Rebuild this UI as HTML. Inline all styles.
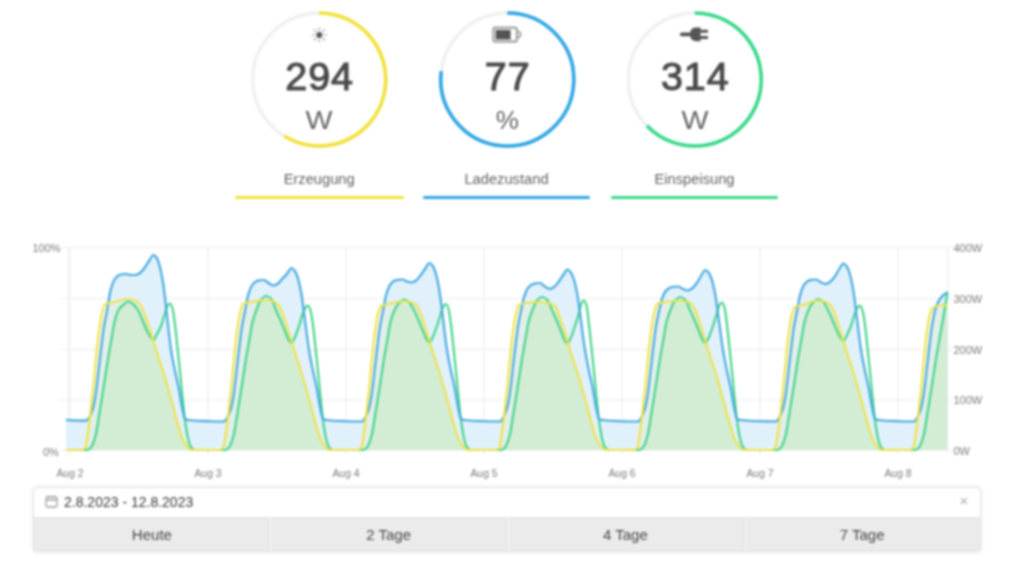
<!DOCTYPE html>
<html><head><meta charset="utf-8">
<style>
*{margin:0;padding:0;box-sizing:border-box}
html,body{width:1024px;height:564px;overflow:hidden;background:#fff;font-family:"Liberation Sans",sans-serif}
.abs{position:absolute}
.num{position:absolute;width:120px;text-align:center;font-weight:normal;font-size:39.5px;color:#4a4a4a;line-height:1;-webkit-text-stroke:1.1px #4a4a4a;letter-spacing:0.9px;text-indent:0.9px}
.unit{position:absolute;width:120px;text-align:center;font-size:26px;color:#666;line-height:1;transform:scaleX(1.1)}
.lbl{position:absolute;width:170px;text-align:center;font-size:14.7px;color:#626262;line-height:1}
.bar{position:absolute;height:3px;border-radius:2px}
.yl{position:absolute;font-size:11px;color:#7a7a7a;line-height:1}
.xl{position:absolute;width:40px;text-align:center;font-size:10.4px;color:#7a7a7a;line-height:1;top:469px}
.box{position:absolute;left:32.5px;top:486.5px;width:948px;height:65.5px;border-radius:4px;border:1px solid #e2e2e2;box-shadow:0 0 4px rgba(0,0,0,0.10);background:#ebebeb;overflow:hidden}
.inp{position:absolute;left:0;top:0;width:947px;height:30px;background:#fff;border-bottom:1px solid #e2e2e2}
.date{position:absolute;left:30.5px;top:7px;font-size:14px;color:#383838;line-height:1}
.btn{position:absolute;top:30px;height:34px;width:236.75px;text-align:center;font-size:15px;color:#484848;line-height:34px}
.sep{position:absolute;top:30px;width:3px;height:34px;border-left:1px solid #e0e0e0;background:#f2f2f2}
</style></head><body><div id="wrap" style="position:absolute;left:0;top:0;width:1024px;height:564px;background:#fff;filter:blur(1px)">
<svg class="abs" style="left:0;top:0" width="1024" height="564" viewBox="0 0 1024 564">
<circle cx="319.2" cy="79.5" r="66.5" fill="none" stroke="#f0f0f0" stroke-width="3.5"/><path d="M319.20,13.00 A66.50,66.50 0 1 1 284.28,136.09" fill="none" stroke="#f2e23a" stroke-width="3.6"/><circle cx="507.3" cy="79.5" r="66.5" fill="none" stroke="#f0f0f0" stroke-width="3.5"/><path d="M507.30,13.00 A66.50,66.50 0 1 1 441.32,71.17" fill="none" stroke="#2ea6e6" stroke-width="3.6"/><circle cx="694.8" cy="79.5" r="66.5" fill="none" stroke="#f0f0f0" stroke-width="3.5"/><path d="M694.80,13.00 A66.50,66.50 0 1 1 646.90,125.63" fill="none" stroke="#38d98a" stroke-width="3.6"/>
<!-- sun -->
<g transform="translate(319.3,34.9)" fill="#555">
<circle r="3"/>
<g stroke="#ababab" stroke-width="1.4" stroke-linecap="round">
<line x1="0" y1="-5" x2="0" y2="-7"/><line x1="0" y1="5" x2="0" y2="7"/>
<line x1="-5" y1="0" x2="-7" y2="0"/><line x1="5" y1="0" x2="7" y2="0"/>
<line x1="3.6" y1="3.6" x2="5" y2="5"/><line x1="-3.6" y1="3.6" x2="-5" y2="5"/>
<line x1="3.6" y1="-3.6" x2="5" y2="-5"/><line x1="-3.6" y1="-3.6" x2="-5" y2="-5"/>
</g></g>
<!-- battery -->
<g>
<rect x="493.3" y="27.6" width="23.6" height="14" rx="2.2" fill="none" stroke="#a3a3a3" stroke-width="2.2"/>
<rect x="495.6" y="29.9" width="15" height="9.6" fill="#545454"/>
<path d="M517.5,31.3 Q520.7,31.8 520.7,34.5 Q520.7,37.2 517.5,37.7" fill="none" stroke="#9a9a9a" stroke-width="1.6"/>
</g>
<!-- plug -->
<g fill="#555">
<rect x="680" y="32.4" width="11" height="3.8" rx="1.5"/>
<path d="M690,34.3 C690,29.5 692.5,27.6 697,27.6 L700.5,27.6 L700.5,41.2 L697,41.2 C692.5,41.2 690,39.2 690,34.3 Z"/>
<rect x="699.5" y="29.8" width="8.6" height="3" rx="1"/>
<rect x="699.5" y="36" width="8.6" height="3" rx="1"/>
</g>
<!-- chart -->
<g stroke="#ececec" stroke-width="1">
<line x1="61" y1="247.5" x2="953" y2="247.5"/>
<line x1="61" y1="298.5" x2="953" y2="298.5"/>
<line x1="61" y1="349.5" x2="953" y2="349.5"/>
<line x1="61" y1="400.0" x2="953" y2="400.0"/>
<line x1="61" y1="450.2" x2="953" y2="450.2"/>
<line x1="70.0" y1="247.5" x2="70.0" y2="456"/>
<line x1="208.0" y1="247.5" x2="208.0" y2="456"/>
<line x1="346.0" y1="247.5" x2="346.0" y2="456"/>
<line x1="484.0" y1="247.5" x2="484.0" y2="456"/>
<line x1="622.0" y1="247.5" x2="622.0" y2="456"/>
<line x1="760.0" y1="247.5" x2="760.0" y2="456"/>
<line x1="898.0" y1="247.5" x2="898.0" y2="456"/>
<line x1="68.5" y1="247.5" x2="68.5" y2="450.5"/>
<line x1="947.5" y1="247.5" x2="947.5" y2="450.5"/>
</g>
<path d="M66.00,420.00C72.67,420.23 79.33,420.70 86.00,420.70C87.17,420.70 88.33,418.71 89.50,417.00C90.50,415.53 91.50,413.08 92.50,410.00C93.33,407.43 94.17,403.64 95.00,399.00C95.83,394.36 96.67,386.89 97.50,380.00C98.17,374.49 98.83,367.83 99.50,362.00C100.17,356.17 100.83,350.36 101.50,345.00C102.33,338.30 103.17,331.06 104.00,326.00C105.00,319.93 106.00,316.37 107.00,311.00C108.17,304.74 109.33,295.07 110.50,290.65C111.83,285.60 113.17,281.37 114.50,279.55C116.33,277.04 118.17,275.14 120.00,274.74C122.00,274.30 124.00,274.00 126.00,274.00C127.67,274.00 129.33,275.00 131.00,275.00C132.50,275.00 134.00,275.00 135.50,275.00C137.00,275.00 138.50,273.95 140.00,273.00C141.50,272.05 143.00,269.94 144.50,268.00C146.00,266.06 147.50,263.15 149.00,261.00C150.50,258.85 152.00,255.00 153.50,255.00C154.50,255.00 155.50,256.23 156.50,257.50C157.50,258.77 158.50,262.04 159.50,265.45C160.67,269.43 161.83,275.44 163.00,282.55C164.07,289.05 165.13,299.08 166.20,308.20C166.97,314.75 167.73,322.42 168.50,329.10C169.33,336.36 170.17,344.53 171.00,350.00C172.33,358.75 173.67,364.49 175.00,371.00C176.17,376.69 177.33,381.07 178.50,387.00C179.67,392.93 180.83,401.53 182.00,407.00C183.00,411.68 184.00,418.38 185.00,419.00C186.00,419.62 187.00,419.91 188.00,420.00C200.00,421.14 212.00,421.50 224.00,421.50C225.17,421.50 226.33,418.95 227.50,417.00C228.50,415.33 229.50,413.08 230.50,410.00C231.33,407.43 232.17,403.64 233.00,399.00C233.83,394.36 234.67,386.89 235.50,380.00C236.17,374.49 236.83,367.83 237.50,362.00C238.17,356.17 238.83,350.36 239.50,345.00C240.33,338.30 241.17,331.06 242.00,326.00C243.00,319.93 244.00,315.94 245.00,311.00C246.17,305.24 247.33,297.65 248.50,293.95C249.83,289.72 251.17,286.18 252.50,284.65C254.33,282.55 256.17,280.96 258.00,280.62C260.00,280.25 262.00,280.00 264.00,280.00C265.67,280.00 267.33,282.31 269.00,283.25C270.50,284.10 272.00,285.50 273.50,285.50C275.00,285.50 276.50,284.45 278.00,283.50C279.50,282.55 281.00,280.08 282.50,278.50C284.00,276.92 285.50,275.71 287.00,274.00C288.50,272.29 290.00,268.00 291.50,268.00C292.50,268.00 293.50,269.30 294.50,270.50C295.50,271.70 296.50,274.17 297.50,277.02C298.67,280.34 299.83,285.64 301.00,291.78C302.07,297.39 303.13,306.05 304.20,313.92C304.97,319.58 305.73,326.19 306.50,331.96C307.33,338.23 308.17,344.87 309.00,350.00C310.33,358.20 311.67,364.49 313.00,371.00C314.17,376.69 315.33,381.07 316.50,387.00C317.67,392.93 318.83,401.53 320.00,407.00C321.00,411.68 322.00,418.38 323.00,419.00C324.00,419.62 325.00,419.91 326.00,420.00C338.00,421.14 350.00,421.50 362.00,421.50C363.17,421.50 364.33,418.95 365.50,417.00C366.50,415.33 367.50,413.08 368.50,410.00C369.33,407.43 370.17,403.64 371.00,399.00C371.83,394.36 372.67,386.89 373.50,380.00C374.17,374.49 374.83,367.83 375.50,362.00C376.17,356.17 376.83,350.36 377.50,345.00C378.33,338.30 379.17,331.06 380.00,326.00C381.00,319.93 382.00,315.98 383.00,311.00C384.17,305.20 385.33,297.44 386.50,293.68C387.83,289.38 389.17,285.78 390.50,284.23C392.33,282.09 394.17,280.47 396.00,280.13C398.00,279.76 400.00,279.50 402.00,279.50C403.67,279.50 405.33,281.03 407.00,281.50C408.50,281.93 410.00,282.50 411.50,282.50C413.00,282.50 414.50,281.45 416.00,280.50C417.50,279.55 419.00,277.38 420.50,275.50C422.00,273.62 423.50,271.08 425.00,269.00C426.50,266.92 428.00,263.00 429.50,263.00C430.50,263.00 431.50,264.27 432.50,265.50C433.50,266.73 434.50,269.51 435.50,272.57C436.67,276.14 437.83,281.72 439.00,288.23C440.07,294.18 441.13,303.37 442.20,311.72C442.97,317.72 443.73,324.74 444.50,330.86C445.33,337.51 446.17,344.73 447.00,350.00C448.33,358.43 449.67,364.49 451.00,371.00C452.17,376.69 453.33,381.07 454.50,387.00C455.67,392.93 456.83,401.53 458.00,407.00C459.00,411.68 460.00,418.38 461.00,419.00C462.00,419.62 463.00,419.91 464.00,420.00C476.00,421.14 488.00,421.50 500.00,421.50C501.17,421.50 502.33,418.95 503.50,417.00C504.50,415.33 505.50,413.08 506.50,410.00C507.33,407.43 508.17,403.64 509.00,399.00C509.83,394.36 510.67,386.89 511.50,380.00C512.17,374.49 512.83,367.83 513.50,362.00C514.17,356.17 514.83,350.36 515.50,345.00C516.33,338.30 517.17,331.06 518.00,326.00C519.00,319.93 520.00,315.69 521.00,311.00C522.17,305.53 523.33,298.94 524.50,295.60C525.83,291.78 527.17,288.58 528.50,287.20C530.33,285.30 532.17,283.86 534.00,283.56C536.00,283.23 538.00,283.00 540.00,283.00C541.67,283.00 543.33,285.47 545.00,286.50C546.50,287.43 548.00,289.00 549.50,289.00C551.00,289.00 552.50,287.95 554.00,287.00C555.50,286.05 557.00,283.88 558.50,282.00C560.00,280.12 561.50,277.58 563.00,275.50C564.50,273.42 566.00,269.50 567.50,269.50C568.50,269.50 569.50,270.80 570.50,272.00C571.50,273.20 572.50,275.58 573.50,278.36C574.67,281.60 575.83,286.82 577.00,292.85C578.07,298.35 579.13,306.85 580.20,314.58C580.97,320.13 581.73,326.63 582.50,332.29C583.33,338.44 584.17,344.92 585.00,350.00C586.33,358.13 587.67,364.49 589.00,371.00C590.17,376.69 591.33,381.07 592.50,387.00C593.67,392.93 594.83,401.53 596.00,407.00C597.00,411.68 598.00,418.38 599.00,419.00C600.00,419.62 601.00,419.91 602.00,420.00C614.00,421.14 626.00,421.50 638.00,421.50C639.17,421.50 640.33,418.95 641.50,417.00C642.50,415.33 643.50,413.08 644.50,410.00C645.33,407.43 646.17,403.64 647.00,399.00C647.83,394.36 648.67,386.89 649.50,380.00C650.17,374.49 650.83,367.83 651.50,362.00C652.17,356.17 652.83,350.36 653.50,345.00C654.33,338.30 655.17,331.06 656.00,326.00C657.00,319.93 658.00,315.36 659.00,311.00C660.17,305.91 661.33,300.45 662.50,297.52C663.83,294.18 665.17,291.38 666.50,290.18C668.33,288.51 670.17,287.26 672.00,286.99C674.00,286.70 676.00,286.50 678.00,286.50C679.67,286.50 681.33,288.34 683.00,289.00C684.50,289.60 686.00,290.50 687.50,290.50C689.00,290.50 690.50,289.45 692.00,288.50C693.50,287.55 695.00,285.50 696.50,283.50C698.00,281.50 699.50,278.22 701.00,276.00C702.50,273.78 704.00,270.00 705.50,270.00C706.50,270.00 707.50,271.31 708.50,272.50C709.50,273.69 710.50,276.04 711.50,278.80C712.67,282.02 713.83,287.21 715.00,293.20C716.07,298.67 717.13,307.12 718.20,314.80C718.97,320.32 719.73,326.77 720.50,332.40C721.33,338.51 722.17,344.93 723.00,350.00C724.33,358.11 725.67,364.49 727.00,371.00C728.17,376.69 729.33,381.07 730.50,387.00C731.67,392.93 732.83,401.53 734.00,407.00C735.00,411.68 736.00,418.38 737.00,419.00C738.00,419.62 739.00,419.91 740.00,420.00C752.00,421.14 764.00,421.50 776.00,421.50C777.17,421.50 778.33,418.95 779.50,417.00C780.50,415.33 781.50,413.08 782.50,410.00C783.33,407.43 784.17,403.64 785.00,399.00C785.83,394.36 786.67,386.89 787.50,380.00C788.17,374.49 788.83,367.83 789.50,362.00C790.17,356.17 790.83,350.36 791.50,345.00C792.33,338.30 793.17,331.06 794.00,326.00C795.00,319.93 796.00,315.98 797.00,311.00C798.17,305.20 799.33,297.44 800.50,293.68C801.83,289.38 803.17,285.78 804.50,284.23C806.33,282.09 808.17,280.47 810.00,280.13C812.00,279.76 814.00,279.50 816.00,279.50C817.67,279.50 819.33,281.49 821.00,282.25C822.50,282.93 824.00,284.00 825.50,284.00C827.00,284.00 828.50,282.95 830.00,282.00C831.50,281.05 833.00,279.00 834.50,277.00C836.00,275.00 837.50,271.72 839.00,269.50C840.50,267.28 842.00,263.50 843.50,263.50C844.50,263.50 845.50,264.77 846.50,266.00C847.50,267.23 848.50,269.97 849.50,273.01C850.67,276.56 851.83,282.11 853.00,288.58C854.07,294.50 855.13,303.64 856.20,311.94C856.97,317.91 857.73,324.89 858.50,330.97C859.33,337.58 860.17,344.75 861.00,350.00C862.33,358.40 863.67,364.49 865.00,371.00C866.17,376.69 867.33,381.07 868.50,387.00C869.67,392.93 870.83,401.53 872.00,407.00C873.00,411.68 874.00,418.38 875.00,419.00C876.00,419.62 877.00,419.91 878.00,420.00C890.00,421.14 902.00,421.50 914.00,421.50C915.17,421.50 916.33,418.95 917.50,417.00C918.50,415.33 919.50,413.08 920.50,410.00C921.33,407.43 922.17,403.64 923.00,399.00C923.83,394.36 924.67,386.89 925.50,380.00C926.17,374.49 926.83,367.83 927.50,362.00C928.17,356.17 928.83,350.36 929.50,345.00C930.33,338.30 931.17,331.00 932.00,326.00C933.17,319.00 934.33,312.51 935.50,309.00C937.33,303.48 939.17,299.74 941.00,297.50C943.17,294.86 945.33,293.83 947.50,292.00L947.50,450.00L66.00,450.00Z" fill="#e1f1fc" stroke="none"/>
<path d="M66.00,450.00C71.33,450.00 76.67,450.00 82.00,450.00C83.17,450.00 84.33,449.06 85.50,447.50C86.33,446.38 87.17,437.80 88.00,432.00C89.00,425.04 90.00,416.58 91.00,408.00C91.83,400.85 92.67,393.28 93.50,385.00C94.33,376.72 95.17,366.28 96.00,358.00C96.83,349.72 97.67,341.29 98.50,335.00C99.50,327.46 100.50,320.36 101.50,316.00C102.67,310.91 103.83,305.13 105.00,304.50C108.33,302.70 111.67,302.83 115.00,302.00C119.00,301.00 123.00,299.00 127.00,299.00C130.00,299.00 133.00,299.57 136.00,300.50C137.67,301.02 139.33,303.51 141.00,306.00C142.33,308.00 143.67,311.57 145.00,315.00C146.33,318.43 147.67,322.84 149.00,327.00C150.33,331.16 151.67,335.70 153.00,340.00C154.67,345.38 156.33,350.84 158.00,356.00C159.67,361.16 161.33,365.69 163.00,371.00C164.67,376.31 166.33,382.17 168.00,388.00C169.67,393.83 171.33,399.84 173.00,406.00C174.67,412.16 176.33,419.41 178.00,425.00C179.67,430.59 181.33,436.67 183.00,440.00C184.67,443.33 186.33,446.05 188.00,447.50C189.33,448.66 190.67,450.00 192.00,450.00C201.33,450.00 210.67,450.00 220.00,450.00C221.17,450.00 222.33,449.06 223.50,447.50C224.33,446.38 225.17,437.80 226.00,432.00C227.00,425.04 228.00,416.58 229.00,408.00C229.83,400.85 230.67,393.28 231.50,385.00C232.33,376.72 233.17,366.28 234.00,358.00C234.83,349.72 235.67,341.29 236.50,335.00C237.50,327.46 238.50,320.48 239.50,316.00C240.67,310.77 241.83,304.63 243.00,304.00C246.33,302.20 249.67,302.06 253.00,301.50C257.00,300.83 261.00,300.00 265.00,300.00C268.00,300.00 271.00,300.60 274.00,301.50C275.67,302.00 277.33,303.82 279.00,306.00C280.33,307.74 281.67,311.57 283.00,315.00C284.33,318.43 285.67,322.84 287.00,327.00C288.33,331.16 289.67,335.70 291.00,340.00C292.67,345.38 294.33,350.84 296.00,356.00C297.67,361.16 299.33,365.69 301.00,371.00C302.67,376.31 304.33,382.17 306.00,388.00C307.67,393.83 309.33,399.84 311.00,406.00C312.67,412.16 314.33,419.41 316.00,425.00C317.67,430.59 319.33,436.67 321.00,440.00C322.67,443.33 324.33,446.05 326.00,447.50C327.33,448.66 328.67,450.00 330.00,450.00C339.33,450.00 348.67,450.00 358.00,450.00C359.17,450.00 360.33,449.06 361.50,447.50C362.33,446.38 363.17,437.80 364.00,432.00C365.00,425.04 366.00,416.58 367.00,408.00C367.83,400.85 368.67,393.28 369.50,385.00C370.33,376.72 371.17,366.28 372.00,358.00C372.83,349.72 373.67,341.29 374.50,335.00C375.50,327.46 376.50,319.98 377.50,316.00C378.67,311.36 379.83,306.62 381.00,306.00C384.33,304.23 387.67,304.26 391.00,303.50C395.00,302.59 399.00,301.00 403.00,301.00C406.00,301.00 409.00,301.64 412.00,302.50C413.67,302.98 415.33,304.19 417.00,306.00C418.33,307.45 419.67,311.57 421.00,315.00C422.33,318.43 423.67,322.84 425.00,327.00C426.33,331.16 427.67,335.70 429.00,340.00C430.67,345.38 432.33,350.84 434.00,356.00C435.67,361.16 437.33,365.69 439.00,371.00C440.67,376.31 442.33,382.17 444.00,388.00C445.67,393.83 447.33,399.84 449.00,406.00C450.67,412.16 452.33,419.41 454.00,425.00C455.67,430.59 457.33,436.67 459.00,440.00C460.67,443.33 462.33,446.05 464.00,447.50C465.33,448.66 466.67,450.00 468.00,450.00C477.33,450.00 486.67,450.00 496.00,450.00C497.17,450.00 498.33,449.06 499.50,447.50C500.33,446.38 501.17,437.80 502.00,432.00C503.00,425.04 504.00,416.58 505.00,408.00C505.83,400.85 506.67,393.28 507.50,385.00C508.33,376.72 509.17,366.28 510.00,358.00C510.83,349.72 511.67,341.29 512.50,335.00C513.50,327.46 514.50,320.24 515.50,316.00C516.67,311.06 517.83,305.63 519.00,305.00C522.33,303.21 525.67,302.74 529.00,302.50C533.00,302.21 537.00,302.00 541.00,302.00C544.00,302.00 547.00,302.71 550.00,303.50C551.67,303.94 553.33,304.60 555.00,306.00C556.33,307.12 557.67,311.57 559.00,315.00C560.33,318.43 561.67,322.84 563.00,327.00C564.33,331.16 565.67,335.70 567.00,340.00C568.67,345.38 570.33,350.84 572.00,356.00C573.67,361.16 575.33,365.69 577.00,371.00C578.67,376.31 580.33,382.17 582.00,388.00C583.67,393.83 585.33,399.84 587.00,406.00C588.67,412.16 590.33,419.41 592.00,425.00C593.67,430.59 595.33,436.67 597.00,440.00C598.67,443.33 600.33,446.05 602.00,447.50C603.33,448.66 604.67,450.00 606.00,450.00C615.33,450.00 624.67,450.00 634.00,450.00C635.17,450.00 636.33,449.06 637.50,447.50C638.33,446.38 639.17,437.80 640.00,432.00C641.00,425.04 642.00,416.58 643.00,408.00C643.83,400.85 644.67,393.28 645.50,385.00C646.33,376.72 647.17,366.28 648.00,358.00C648.83,349.72 649.67,341.29 650.50,335.00C651.50,327.46 652.50,320.48 653.50,316.00C654.67,310.77 655.83,304.63 657.00,304.00C660.33,302.20 663.67,301.92 667.00,301.50C671.00,300.99 675.00,300.50 679.00,300.50C682.00,300.50 685.00,301.12 688.00,302.00C689.67,302.49 691.33,304.00 693.00,306.00C694.33,307.60 695.67,311.57 697.00,315.00C698.33,318.43 699.67,322.84 701.00,327.00C702.33,331.16 703.67,335.70 705.00,340.00C706.67,345.38 708.33,350.84 710.00,356.00C711.67,361.16 713.33,365.69 715.00,371.00C716.67,376.31 718.33,382.17 720.00,388.00C721.67,393.83 723.33,399.84 725.00,406.00C726.67,412.16 728.33,419.41 730.00,425.00C731.67,430.59 733.33,436.67 735.00,440.00C736.67,443.33 738.33,446.05 740.00,447.50C741.33,448.66 742.67,450.00 744.00,450.00C753.33,450.00 762.67,450.00 772.00,450.00C773.17,450.00 774.33,449.06 775.50,447.50C776.33,446.38 777.17,437.80 778.00,432.00C779.00,425.04 780.00,416.58 781.00,408.00C781.83,400.85 782.67,393.28 783.50,385.00C784.33,376.72 785.17,366.28 786.00,358.00C786.83,349.72 787.67,341.29 788.50,335.00C789.50,327.46 790.50,319.70 791.50,316.00C792.67,311.69 793.83,307.61 795.00,307.00C798.33,305.25 801.67,305.45 805.00,304.50C809.00,303.36 813.00,300.50 817.00,300.50C820.00,300.50 823.00,301.12 826.00,302.00C827.67,302.49 829.33,304.00 831.00,306.00C832.33,307.60 833.67,311.57 835.00,315.00C836.33,318.43 837.67,322.84 839.00,327.00C840.33,331.16 841.67,335.70 843.00,340.00C844.67,345.38 846.33,350.84 848.00,356.00C849.67,361.16 851.33,365.69 853.00,371.00C854.67,376.31 856.33,382.17 858.00,388.00C859.67,393.83 861.33,399.84 863.00,406.00C864.67,412.16 866.33,419.41 868.00,425.00C869.67,430.59 871.33,436.67 873.00,440.00C874.67,443.33 876.33,446.05 878.00,447.50C879.33,448.66 880.67,450.00 882.00,450.00C891.33,450.00 900.67,450.00 910.00,450.00C911.17,450.00 912.33,449.06 913.50,447.50C914.33,446.38 915.17,437.80 916.00,432.00C917.00,425.04 918.00,416.58 919.00,408.00C919.83,400.85 920.67,393.28 921.50,385.00C922.33,376.72 923.17,366.28 924.00,358.00C924.83,349.72 925.67,341.29 926.50,335.00C927.50,327.46 928.50,319.55 929.50,316.00C930.67,311.86 931.83,308.11 933.00,307.50C936.33,305.76 939.67,305.00 943.00,305.00C944.50,305.00 946.00,305.33 947.50,305.50L947.50,450.00L66.00,450.00Z" fill="rgba(240,228,66,0.1)" stroke="none"/>
<path d="M66.0,450.0L66.0,450.0L66.5,450.0L67.0,450.0L67.5,450.0L68.0,450.0L68.5,450.0L69.0,450.0L69.5,450.0L70.0,450.0L70.5,450.0L71.0,450.0L71.5,450.0L72.0,450.0L72.5,450.0L73.0,450.0L73.5,450.0L74.0,450.0L74.5,450.0L75.0,450.0L75.5,450.0L76.0,450.0L76.5,450.0L77.0,450.0L77.5,450.0L78.0,450.0L78.5,450.0L79.0,450.0L79.5,450.0L80.0,450.0L80.5,450.0L81.0,450.0L81.5,450.0L82.0,450.0L82.5,450.0L83.0,450.0L83.5,450.0L84.0,450.0L84.5,450.0L85.0,450.0L85.5,450.0L86.0,450.0L86.5,450.0L87.0,450.0L87.5,450.0L88.0,449.9L88.5,449.7L89.0,449.4L89.5,449.0L90.0,448.6L90.5,448.0L91.0,447.5L91.5,446.9L92.0,446.0L92.5,445.0L93.0,443.8L93.5,442.5L94.0,441.0L94.5,439.4L95.0,437.7L95.5,436.0L96.0,434.0L96.5,431.5L97.0,428.7L97.5,425.7L98.0,422.5L98.5,419.3L99.0,416.1L99.5,413.0L100.0,410.0L100.5,406.9L101.0,403.8L101.5,400.7L102.0,397.5L102.5,394.4L103.0,391.2L103.5,388.0L104.0,384.8L104.5,381.5L105.0,378.2L105.5,374.9L106.0,371.6L106.5,368.3L107.0,365.1L107.5,362.0L108.0,359.0L108.5,356.0L109.0,353.2L109.5,350.3L110.0,347.5L110.5,344.7L111.0,341.8L111.5,339.0L112.0,336.0L112.5,332.9L113.0,329.9L113.5,326.9L114.0,324.2L114.5,322.0L115.0,320.0L115.5,318.2L116.0,316.4L116.5,314.8L117.0,313.4L117.5,312.0L118.0,310.9L118.5,310.0L119.0,309.2L119.5,308.5L120.0,307.9L120.5,307.3L121.0,306.8L121.5,306.3L122.0,305.9L122.5,305.4L123.0,305.0L123.5,304.6L124.0,304.1L124.5,303.6L125.0,303.1L125.5,302.7L126.0,302.3L126.5,302.0L127.0,301.7L127.5,301.6L128.0,301.5L128.5,301.5L129.0,301.6L129.5,301.8L130.0,302.0L130.5,302.3L131.0,302.6L131.5,302.9L132.0,303.3L132.5,303.6L133.0,304.0L133.5,304.4L134.0,304.8L134.5,305.3L135.0,305.9L135.5,306.5L136.0,307.1L136.5,307.8L137.0,308.5L137.5,309.2L138.0,310.0L138.5,310.8L139.0,311.8L139.5,312.9L140.0,314.0L140.5,315.2L141.0,316.4L141.5,317.6L142.0,318.8L142.5,320.0L143.0,321.2L143.5,322.5L144.0,323.8L144.5,325.1L145.0,326.4L145.5,327.6L146.0,328.8L146.5,330.0L147.0,331.0L147.5,332.0L148.0,332.9L148.5,333.8L149.0,334.6L149.5,335.4L150.0,336.2L150.5,336.9L151.0,337.5L151.5,338.1L152.0,338.8L152.5,339.4L153.0,340.0L153.5,341.6L154.0,343.2L154.5,344.9L155.0,346.5L155.5,348.1L156.0,349.7L156.5,351.3L157.0,352.9L157.5,354.4L158.0,356.0L158.5,357.5L159.0,359.0L159.5,360.5L160.0,362.0L160.5,363.4L161.0,364.9L161.5,366.4L162.0,367.9L162.5,369.4L163.0,371.0L163.5,372.6L164.0,374.2L164.5,375.9L165.0,377.6L165.5,379.3L166.0,381.0L166.5,382.8L167.0,384.5L167.5,386.3L168.0,388.0L168.5,389.8L169.0,391.5L169.5,393.3L170.0,395.1L170.5,396.9L171.0,398.7L171.5,400.5L172.0,402.3L172.5,404.2L173.0,406.0L173.5,407.9L174.0,409.8L174.5,411.8L175.0,413.7L175.5,415.7L176.0,417.7L176.5,419.6L177.0,421.5L177.5,423.3L178.0,425.0L178.5,426.7L179.0,428.4L179.5,430.1L180.0,431.7L180.5,433.3L181.0,434.9L181.5,436.3L182.0,437.7L182.5,438.9L183.0,440.0L183.5,441.0L184.0,441.9L184.5,442.8L185.0,443.7L185.5,444.5L186.0,445.2L186.5,445.9L187.0,446.5L187.5,447.0L188.0,447.5L188.5,447.9L189.0,448.4L189.5,448.8L190.0,449.2L190.5,449.5L191.0,449.8L191.5,449.9L192.0,450.0L192.5,450.0L193.0,450.0L193.5,450.0L194.0,450.0L194.5,450.0L195.0,450.0L195.5,450.0L196.0,450.0L196.5,450.0L197.0,450.0L197.5,450.0L198.0,450.0L198.5,450.0L199.0,450.0L199.5,450.0L200.0,450.0L200.5,450.0L201.0,450.0L201.5,450.0L202.0,450.0L202.5,450.0L203.0,450.0L203.5,450.0L204.0,450.0L204.5,450.0L205.0,450.0L205.5,450.0L206.0,450.0L206.5,450.0L207.0,450.0L207.5,450.0L208.0,450.0L208.5,450.0L209.0,450.0L209.5,450.0L210.0,450.0L210.5,450.0L211.0,450.0L211.5,450.0L212.0,450.0L212.5,450.0L213.0,450.0L213.5,450.0L214.0,450.0L214.5,450.0L215.0,450.0L215.5,450.0L216.0,450.0L216.5,450.0L217.0,450.0L217.5,450.0L218.0,450.0L218.5,450.0L219.0,450.0L219.5,450.0L220.0,450.0L220.5,450.0L221.0,450.0L221.5,450.0L222.0,450.0L222.5,450.0L223.0,450.0L223.5,450.0L224.0,450.0L224.5,450.0L225.0,450.0L225.5,450.0L226.0,449.9L226.5,449.7L227.0,449.4L227.5,449.0L228.0,448.6L228.5,448.0L229.0,447.5L229.5,446.9L230.0,446.0L230.5,445.0L231.0,443.8L231.5,442.5L232.0,441.0L232.5,439.4L233.0,437.7L233.5,436.0L234.0,434.0L234.5,431.5L235.0,428.7L235.5,425.7L236.0,422.5L236.5,419.3L237.0,416.1L237.5,413.0L238.0,410.0L238.5,406.9L239.0,403.8L239.5,400.7L240.0,397.5L240.5,394.4L241.0,391.2L241.5,388.0L242.0,384.8L242.5,381.5L243.0,378.2L243.5,374.9L244.0,371.6L244.5,368.3L245.0,365.1L245.5,362.0L246.0,359.0L246.5,356.0L247.0,353.2L247.5,350.3L248.0,347.5L248.5,344.7L249.0,341.8L249.5,339.0L250.0,336.0L250.5,332.9L251.0,329.9L251.5,326.9L252.0,324.2L252.5,322.0L253.0,320.1L253.5,318.4L254.0,316.8L254.5,315.3L255.0,313.9L255.5,312.6L256.0,311.3L256.5,310.0L257.0,308.7L257.5,307.3L258.0,305.9L258.5,304.5L259.0,303.3L259.5,302.1L260.0,301.0L260.5,300.3L261.0,300.2L261.5,300.2L262.0,300.1L262.5,300.1L263.0,300.1L263.5,300.0L264.0,300.0L264.5,300.0L265.0,300.0L265.5,300.0L266.0,300.0L266.5,300.0L267.0,300.1L267.5,300.1L268.0,300.2L268.5,300.3L269.0,300.3L269.5,300.4L270.0,300.5L270.5,300.6L271.0,300.7L271.5,300.8L272.0,300.9L272.5,301.1L273.0,302.1L273.5,303.4L274.0,304.7L274.5,306.1L275.0,307.5L275.5,308.8L276.0,310.0L276.5,311.1L277.0,312.2L277.5,313.3L278.0,314.4L278.5,315.5L279.0,316.6L279.5,317.7L280.0,318.8L280.5,320.0L281.0,321.2L281.5,322.4L282.0,323.6L282.5,324.8L283.0,326.1L283.5,327.3L284.0,328.6L284.5,329.8L285.0,331.0L285.5,332.3L286.0,333.6L286.5,334.9L287.0,336.3L287.5,337.5L288.0,338.7L288.5,339.7L289.0,340.5L289.5,341.2L290.0,341.9L290.5,342.4L291.0,342.8L291.5,343.0L292.0,343.2L292.5,344.9L293.0,346.5L293.5,348.1L294.0,349.7L294.5,351.3L295.0,352.9L295.5,354.4L296.0,356.0L296.5,357.5L297.0,359.0L297.5,360.5L298.0,362.0L298.5,363.4L299.0,364.9L299.5,366.4L300.0,367.9L300.5,369.4L301.0,371.0L301.5,372.6L302.0,374.2L302.5,375.9L303.0,377.6L303.5,379.3L304.0,381.0L304.5,382.8L305.0,384.5L305.5,386.3L306.0,388.0L306.5,389.8L307.0,391.5L307.5,393.3L308.0,395.1L308.5,396.9L309.0,398.7L309.5,400.5L310.0,402.3L310.5,404.2L311.0,406.0L311.5,407.9L312.0,409.8L312.5,411.8L313.0,413.7L313.5,415.7L314.0,417.7L314.5,419.6L315.0,421.5L315.5,423.3L316.0,425.0L316.5,426.7L317.0,428.4L317.5,430.1L318.0,431.7L318.5,433.3L319.0,434.9L319.5,436.3L320.0,437.7L320.5,438.9L321.0,440.0L321.5,441.0L322.0,441.9L322.5,442.8L323.0,443.7L323.5,444.5L324.0,445.2L324.5,445.9L325.0,446.5L325.5,447.0L326.0,447.5L326.5,447.9L327.0,448.4L327.5,448.8L328.0,449.2L328.5,449.5L329.0,449.8L329.5,449.9L330.0,450.0L330.5,450.0L331.0,450.0L331.5,450.0L332.0,450.0L332.5,450.0L333.0,450.0L333.5,450.0L334.0,450.0L334.5,450.0L335.0,450.0L335.5,450.0L336.0,450.0L336.5,450.0L337.0,450.0L337.5,450.0L338.0,450.0L338.5,450.0L339.0,450.0L339.5,450.0L340.0,450.0L340.5,450.0L341.0,450.0L341.5,450.0L342.0,450.0L342.5,450.0L343.0,450.0L343.5,450.0L344.0,450.0L344.5,450.0L345.0,450.0L345.5,450.0L346.0,450.0L346.5,450.0L347.0,450.0L347.5,450.0L348.0,450.0L348.5,450.0L349.0,450.0L349.5,450.0L350.0,450.0L350.5,450.0L351.0,450.0L351.5,450.0L352.0,450.0L352.5,450.0L353.0,450.0L353.5,450.0L354.0,450.0L354.5,450.0L355.0,450.0L355.5,450.0L356.0,450.0L356.5,450.0L357.0,450.0L357.5,450.0L358.0,450.0L358.5,450.0L359.0,450.0L359.5,450.0L360.0,450.0L360.5,450.0L361.0,450.0L361.5,450.0L362.0,450.0L362.5,450.0L363.0,450.0L363.5,450.0L364.0,449.9L364.5,449.7L365.0,449.4L365.5,449.0L366.0,448.6L366.5,448.0L367.0,447.5L367.5,446.9L368.0,446.0L368.5,445.0L369.0,443.8L369.5,442.5L370.0,441.0L370.5,439.4L371.0,437.7L371.5,436.0L372.0,434.0L372.5,431.5L373.0,428.7L373.5,425.7L374.0,422.5L374.5,419.3L375.0,416.1L375.5,413.0L376.0,410.0L376.5,406.9L377.0,403.8L377.5,400.7L378.0,397.5L378.5,394.4L379.0,391.2L379.5,388.0L380.0,384.8L380.5,381.5L381.0,378.2L381.5,374.9L382.0,371.6L382.5,368.3L383.0,365.1L383.5,362.0L384.0,359.0L384.5,356.0L385.0,353.2L385.5,350.3L386.0,347.5L386.5,344.7L387.0,341.8L387.5,339.0L388.0,336.0L388.5,332.9L389.0,329.9L389.5,326.9L390.0,324.2L390.5,322.0L391.0,320.1L391.5,318.3L392.0,316.6L392.5,315.0L393.0,313.6L393.5,312.3L394.0,311.1L394.5,310.0L395.0,309.0L395.5,308.0L396.0,307.1L396.5,306.3L397.0,305.5L397.5,304.8L398.0,304.1L398.5,303.5L399.0,303.0L399.5,302.5L400.0,302.0L400.5,301.5L401.0,301.1L401.5,301.1L402.0,301.0L402.5,301.0L403.0,301.0L403.5,301.0L404.0,301.0L404.5,301.1L405.0,301.1L405.5,301.1L406.0,301.2L406.5,301.3L407.0,301.3L407.5,301.4L408.0,301.5L408.5,301.6L409.0,302.0L409.5,302.4L410.0,303.0L410.5,303.7L411.0,304.5L411.5,305.3L412.0,306.2L412.5,307.1L413.0,308.1L413.5,309.1L414.0,310.0L414.5,311.0L415.0,312.0L415.5,313.1L416.0,314.2L416.5,315.3L417.0,316.5L417.5,317.7L418.0,318.8L418.5,320.0L419.0,321.2L419.5,322.4L420.0,323.6L420.5,324.9L421.0,326.1L421.5,327.4L422.0,328.6L422.5,329.8L423.0,331.0L423.5,332.2L424.0,333.5L424.5,334.7L425.0,336.0L425.5,337.2L426.0,338.3L426.5,339.2L427.0,340.0L427.5,340.7L428.0,341.4L428.5,341.9L429.0,342.3L429.5,342.5L430.0,343.2L430.5,344.9L431.0,346.5L431.5,348.1L432.0,349.7L432.5,351.3L433.0,352.9L433.5,354.4L434.0,356.0L434.5,357.5L435.0,359.0L435.5,360.5L436.0,362.0L436.5,363.4L437.0,364.9L437.5,366.4L438.0,367.9L438.5,369.4L439.0,371.0L439.5,372.6L440.0,374.2L440.5,375.9L441.0,377.6L441.5,379.3L442.0,381.0L442.5,382.8L443.0,384.5L443.5,386.3L444.0,388.0L444.5,389.8L445.0,391.5L445.5,393.3L446.0,395.1L446.5,396.9L447.0,398.7L447.5,400.5L448.0,402.3L448.5,404.2L449.0,406.0L449.5,407.9L450.0,409.8L450.5,411.8L451.0,413.7L451.5,415.7L452.0,417.7L452.5,419.6L453.0,421.5L453.5,423.3L454.0,425.0L454.5,426.7L455.0,428.4L455.5,430.1L456.0,431.7L456.5,433.3L457.0,434.9L457.5,436.3L458.0,437.7L458.5,438.9L459.0,440.0L459.5,441.0L460.0,441.9L460.5,442.8L461.0,443.7L461.5,444.5L462.0,445.2L462.5,445.9L463.0,446.5L463.5,447.0L464.0,447.5L464.5,447.9L465.0,448.4L465.5,448.8L466.0,449.2L466.5,449.5L467.0,449.8L467.5,449.9L468.0,450.0L468.5,450.0L469.0,450.0L469.5,450.0L470.0,450.0L470.5,450.0L471.0,450.0L471.5,450.0L472.0,450.0L472.5,450.0L473.0,450.0L473.5,450.0L474.0,450.0L474.5,450.0L475.0,450.0L475.5,450.0L476.0,450.0L476.5,450.0L477.0,450.0L477.5,450.0L478.0,450.0L478.5,450.0L479.0,450.0L479.5,450.0L480.0,450.0L480.5,450.0L481.0,450.0L481.5,450.0L482.0,450.0L482.5,450.0L483.0,450.0L483.5,450.0L484.0,450.0L484.5,450.0L485.0,450.0L485.5,450.0L486.0,450.0L486.5,450.0L487.0,450.0L487.5,450.0L488.0,450.0L488.5,450.0L489.0,450.0L489.5,450.0L490.0,450.0L490.5,450.0L491.0,450.0L491.5,450.0L492.0,450.0L492.5,450.0L493.0,450.0L493.5,450.0L494.0,450.0L494.5,450.0L495.0,450.0L495.5,450.0L496.0,450.0L496.5,450.0L497.0,450.0L497.5,450.0L498.0,450.0L498.5,450.0L499.0,450.0L499.5,450.0L500.0,450.0L500.5,450.0L501.0,450.0L501.5,450.0L502.0,449.9L502.5,449.7L503.0,449.4L503.5,449.0L504.0,448.6L504.5,448.0L505.0,447.5L505.5,446.9L506.0,446.0L506.5,445.0L507.0,443.8L507.5,442.5L508.0,441.0L508.5,439.4L509.0,437.7L509.5,436.0L510.0,434.0L510.5,431.5L511.0,428.7L511.5,425.7L512.0,422.5L512.5,419.3L513.0,416.1L513.5,413.0L514.0,410.0L514.5,406.9L515.0,403.8L515.5,400.7L516.0,397.5L516.5,394.4L517.0,391.2L517.5,388.0L518.0,384.8L518.5,381.5L519.0,378.2L519.5,374.9L520.0,371.6L520.5,368.3L521.0,365.1L521.5,362.0L522.0,359.0L522.5,356.0L523.0,353.2L523.5,350.3L524.0,347.5L524.5,344.7L525.0,341.8L525.5,339.0L526.0,336.0L526.5,332.9L527.0,329.9L527.5,326.9L528.0,324.2L528.5,322.0L529.0,320.1L529.5,318.4L530.0,316.7L530.5,315.3L531.0,313.9L531.5,312.5L532.0,311.2L532.5,310.0L533.0,308.7L533.5,307.5L534.0,306.2L534.5,305.0L535.0,303.9L535.5,302.8L536.0,302.1L536.5,302.1L537.0,302.1L537.5,302.1L538.0,302.0L538.5,302.0L539.0,302.0L539.5,302.0L540.0,302.0L540.5,302.0L541.0,302.0L541.5,302.0L542.0,302.0L542.5,302.1L543.0,302.1L543.5,302.2L544.0,302.2L544.5,302.3L545.0,302.4L545.5,302.5L546.0,302.6L546.5,302.7L547.0,302.8L547.5,302.9L548.0,303.0L548.5,303.1L549.0,303.2L549.5,303.9L550.0,305.1L550.5,306.4L551.0,307.7L551.5,308.9L552.0,310.0L552.5,311.1L553.0,312.2L553.5,313.3L554.0,314.4L554.5,315.5L555.0,316.6L555.5,317.7L556.0,318.8L556.5,320.0L557.0,321.2L557.5,322.4L558.0,323.6L558.5,324.8L559.0,326.0L559.5,327.3L560.0,328.5L560.5,329.8L561.0,331.0L561.5,332.3L562.0,333.7L562.5,335.1L563.0,336.5L563.5,337.9L564.0,339.1L564.5,340.2L565.0,341.0L565.5,341.7L566.0,342.4L566.5,343.0L567.0,343.4L567.5,343.5L568.0,343.3L568.5,344.9L569.0,346.5L569.5,348.1L570.0,349.7L570.5,351.3L571.0,352.9L571.5,354.4L572.0,356.0L572.5,357.5L573.0,359.0L573.5,360.5L574.0,362.0L574.5,363.4L575.0,364.9L575.5,366.4L576.0,367.9L576.5,369.4L577.0,371.0L577.5,372.6L578.0,374.2L578.5,375.9L579.0,377.6L579.5,379.3L580.0,381.0L580.5,382.8L581.0,384.5L581.5,386.3L582.0,388.0L582.5,389.8L583.0,391.5L583.5,393.3L584.0,395.1L584.5,396.9L585.0,398.7L585.5,400.5L586.0,402.3L586.5,404.2L587.0,406.0L587.5,407.9L588.0,409.8L588.5,411.8L589.0,413.7L589.5,415.7L590.0,417.7L590.5,419.6L591.0,421.5L591.5,423.3L592.0,425.0L592.5,426.7L593.0,428.4L593.5,430.1L594.0,431.7L594.5,433.3L595.0,434.9L595.5,436.3L596.0,437.7L596.5,438.9L597.0,440.0L597.5,441.0L598.0,441.9L598.5,442.8L599.0,443.7L599.5,444.5L600.0,445.2L600.5,445.9L601.0,446.5L601.5,447.0L602.0,447.5L602.5,447.9L603.0,448.4L603.5,448.8L604.0,449.2L604.5,449.5L605.0,449.8L605.5,449.9L606.0,450.0L606.5,450.0L607.0,450.0L607.5,450.0L608.0,450.0L608.5,450.0L609.0,450.0L609.5,450.0L610.0,450.0L610.5,450.0L611.0,450.0L611.5,450.0L612.0,450.0L612.5,450.0L613.0,450.0L613.5,450.0L614.0,450.0L614.5,450.0L615.0,450.0L615.5,450.0L616.0,450.0L616.5,450.0L617.0,450.0L617.5,450.0L618.0,450.0L618.5,450.0L619.0,450.0L619.5,450.0L620.0,450.0L620.5,450.0L621.0,450.0L621.5,450.0L622.0,450.0L622.5,450.0L623.0,450.0L623.5,450.0L624.0,450.0L624.5,450.0L625.0,450.0L625.5,450.0L626.0,450.0L626.5,450.0L627.0,450.0L627.5,450.0L628.0,450.0L628.5,450.0L629.0,450.0L629.5,450.0L630.0,450.0L630.5,450.0L631.0,450.0L631.5,450.0L632.0,450.0L632.5,450.0L633.0,450.0L633.5,450.0L634.0,450.0L634.5,450.0L635.0,450.0L635.5,450.0L636.0,450.0L636.5,450.0L637.0,450.0L637.5,450.0L638.0,450.0L638.5,450.0L639.0,450.0L639.5,450.0L640.0,449.9L640.5,449.7L641.0,449.4L641.5,449.0L642.0,448.6L642.5,448.0L643.0,447.5L643.5,446.9L644.0,446.0L644.5,445.0L645.0,443.8L645.5,442.5L646.0,441.0L646.5,439.4L647.0,437.7L647.5,436.0L648.0,434.0L648.5,431.5L649.0,428.7L649.5,425.7L650.0,422.5L650.5,419.3L651.0,416.1L651.5,413.0L652.0,410.0L652.5,406.9L653.0,403.8L653.5,400.7L654.0,397.5L654.5,394.4L655.0,391.2L655.5,388.0L656.0,384.8L656.5,381.5L657.0,378.2L657.5,374.9L658.0,371.6L658.5,368.3L659.0,365.1L659.5,362.0L660.0,359.0L660.5,356.0L661.0,353.2L661.5,350.3L662.0,347.5L662.5,344.7L663.0,341.8L663.5,339.0L664.0,336.0L664.5,332.9L665.0,329.9L665.5,326.9L666.0,324.2L666.5,322.0L667.0,320.1L667.5,318.4L668.0,316.7L668.5,315.3L669.0,313.9L669.5,312.5L670.0,311.2L670.5,310.0L671.0,308.7L671.5,307.5L672.0,306.2L672.5,305.0L673.0,303.9L673.5,302.8L674.0,301.9L674.5,301.1L675.0,300.6L675.5,300.6L676.0,300.6L676.5,300.6L677.0,300.5L677.5,300.5L678.0,300.5L678.5,300.5L679.0,300.5L679.5,300.5L680.0,300.5L680.5,300.5L681.0,300.6L681.5,300.6L682.0,300.7L682.5,300.8L683.0,300.8L683.5,300.9L684.0,301.0L684.5,301.1L685.0,301.2L685.5,301.3L686.0,301.5L686.5,301.7L687.0,302.7L687.5,303.9L688.0,305.1L688.5,306.4L689.0,307.7L689.5,308.9L690.0,310.0L690.5,311.1L691.0,312.2L691.5,313.3L692.0,314.4L692.5,315.5L693.0,316.6L693.5,317.7L694.0,318.8L694.5,320.0L695.0,321.2L695.5,322.4L696.0,323.6L696.5,324.8L697.0,326.1L697.5,327.3L698.0,328.6L698.5,329.8L699.0,331.0L699.5,332.3L700.0,333.6L700.5,334.9L701.0,336.3L701.5,337.5L702.0,338.7L702.5,339.7L703.0,340.5L703.5,341.2L704.0,341.9L704.5,342.4L705.0,342.8L705.5,343.0L706.0,343.2L706.5,344.9L707.0,346.5L707.5,348.1L708.0,349.7L708.5,351.3L709.0,352.9L709.5,354.4L710.0,356.0L710.5,357.5L711.0,359.0L711.5,360.5L712.0,362.0L712.5,363.4L713.0,364.9L713.5,366.4L714.0,367.9L714.5,369.4L715.0,371.0L715.5,372.6L716.0,374.2L716.5,375.9L717.0,377.6L717.5,379.3L718.0,381.0L718.5,382.8L719.0,384.5L719.5,386.3L720.0,388.0L720.5,389.8L721.0,391.5L721.5,393.3L722.0,395.1L722.5,396.9L723.0,398.7L723.5,400.5L724.0,402.3L724.5,404.2L725.0,406.0L725.5,407.9L726.0,409.8L726.5,411.8L727.0,413.7L727.5,415.7L728.0,417.7L728.5,419.6L729.0,421.5L729.5,423.3L730.0,425.0L730.5,426.7L731.0,428.4L731.5,430.1L732.0,431.7L732.5,433.3L733.0,434.9L733.5,436.3L734.0,437.7L734.5,438.9L735.0,440.0L735.5,441.0L736.0,441.9L736.5,442.8L737.0,443.7L737.5,444.5L738.0,445.2L738.5,445.9L739.0,446.5L739.5,447.0L740.0,447.5L740.5,447.9L741.0,448.4L741.5,448.8L742.0,449.2L742.5,449.5L743.0,449.8L743.5,449.9L744.0,450.0L744.5,450.0L745.0,450.0L745.5,450.0L746.0,450.0L746.5,450.0L747.0,450.0L747.5,450.0L748.0,450.0L748.5,450.0L749.0,450.0L749.5,450.0L750.0,450.0L750.5,450.0L751.0,450.0L751.5,450.0L752.0,450.0L752.5,450.0L753.0,450.0L753.5,450.0L754.0,450.0L754.5,450.0L755.0,450.0L755.5,450.0L756.0,450.0L756.5,450.0L757.0,450.0L757.5,450.0L758.0,450.0L758.5,450.0L759.0,450.0L759.5,450.0L760.0,450.0L760.5,450.0L761.0,450.0L761.5,450.0L762.0,450.0L762.5,450.0L763.0,450.0L763.5,450.0L764.0,450.0L764.5,450.0L765.0,450.0L765.5,450.0L766.0,450.0L766.5,450.0L767.0,450.0L767.5,450.0L768.0,450.0L768.5,450.0L769.0,450.0L769.5,450.0L770.0,450.0L770.5,450.0L771.0,450.0L771.5,450.0L772.0,450.0L772.5,450.0L773.0,450.0L773.5,450.0L774.0,450.0L774.5,450.0L775.0,450.0L775.5,450.0L776.0,450.0L776.5,450.0L777.0,450.0L777.5,450.0L778.0,449.9L778.5,449.7L779.0,449.4L779.5,449.0L780.0,448.6L780.5,448.0L781.0,447.5L781.5,446.9L782.0,446.0L782.5,445.0L783.0,443.8L783.5,442.5L784.0,441.0L784.5,439.4L785.0,437.7L785.5,436.0L786.0,434.0L786.5,431.5L787.0,428.7L787.5,425.7L788.0,422.5L788.5,419.3L789.0,416.1L789.5,413.0L790.0,410.0L790.5,406.9L791.0,403.8L791.5,400.7L792.0,397.5L792.5,394.4L793.0,391.2L793.5,388.0L794.0,384.8L794.5,381.5L795.0,378.2L795.5,374.9L796.0,371.6L796.5,368.3L797.0,365.1L797.5,362.0L798.0,359.0L798.5,356.0L799.0,353.2L799.5,350.3L800.0,347.5L800.5,344.7L801.0,341.8L801.5,339.0L802.0,336.0L802.5,332.9L803.0,329.9L803.5,326.9L804.0,324.2L804.5,322.0L805.0,320.1L805.5,318.3L806.0,316.6L806.5,315.1L807.0,313.7L807.5,312.3L808.0,311.1L808.5,310.0L809.0,308.9L809.5,307.9L810.0,306.9L810.5,306.0L811.0,305.2L811.5,304.4L812.0,303.7L812.5,303.0L813.0,302.5L813.5,302.0L814.0,301.5L814.5,301.0L815.0,300.7L815.5,300.6L816.0,300.6L816.5,300.5L817.0,300.5L817.5,300.5L818.0,300.5L818.5,300.5L819.0,300.6L819.5,300.6L820.0,300.7L820.5,300.8L821.0,300.8L821.5,300.9L822.0,301.0L822.5,301.1L823.0,301.5L823.5,302.0L824.0,302.6L824.5,303.3L825.0,304.1L825.5,305.0L826.0,306.0L826.5,307.0L827.0,308.0L827.5,309.0L828.0,310.0L828.5,311.0L829.0,312.0L829.5,313.1L830.0,314.2L830.5,315.3L831.0,316.5L831.5,317.7L832.0,318.8L832.5,320.0L833.0,321.2L833.5,322.4L834.0,323.7L834.5,325.0L835.0,326.3L835.5,327.5L836.0,328.7L836.5,329.9L837.0,331.0L837.5,332.1L838.0,333.1L838.5,334.2L839.0,335.2L839.5,336.1L840.0,337.0L840.5,337.8L841.0,338.5L841.5,339.2L842.0,339.8L842.5,340.4L843.0,340.8L843.5,341.6L844.0,343.2L844.5,344.9L845.0,346.5L845.5,348.1L846.0,349.7L846.5,351.3L847.0,352.9L847.5,354.4L848.0,356.0L848.5,357.5L849.0,359.0L849.5,360.5L850.0,362.0L850.5,363.4L851.0,364.9L851.5,366.4L852.0,367.9L852.5,369.4L853.0,371.0L853.5,372.6L854.0,374.2L854.5,375.9L855.0,377.6L855.5,379.3L856.0,381.0L856.5,382.8L857.0,384.5L857.5,386.3L858.0,388.0L858.5,389.8L859.0,391.5L859.5,393.3L860.0,395.1L860.5,396.9L861.0,398.7L861.5,400.5L862.0,402.3L862.5,404.2L863.0,406.0L863.5,407.9L864.0,409.8L864.5,411.8L865.0,413.7L865.5,415.7L866.0,417.7L866.5,419.6L867.0,421.5L867.5,423.3L868.0,425.0L868.5,426.7L869.0,428.4L869.5,430.1L870.0,431.7L870.5,433.3L871.0,434.9L871.5,436.3L872.0,437.7L872.5,438.9L873.0,440.0L873.5,441.0L874.0,441.9L874.5,442.8L875.0,443.7L875.5,444.5L876.0,445.2L876.5,445.9L877.0,446.5L877.5,447.0L878.0,447.5L878.5,447.9L879.0,448.4L879.5,448.8L880.0,449.2L880.5,449.5L881.0,449.8L881.5,449.9L882.0,450.0L882.5,450.0L883.0,450.0L883.5,450.0L884.0,450.0L884.5,450.0L885.0,450.0L885.5,450.0L886.0,450.0L886.5,450.0L887.0,450.0L887.5,450.0L888.0,450.0L888.5,450.0L889.0,450.0L889.5,450.0L890.0,450.0L890.5,450.0L891.0,450.0L891.5,450.0L892.0,450.0L892.5,450.0L893.0,450.0L893.5,450.0L894.0,450.0L894.5,450.0L895.0,450.0L895.5,450.0L896.0,450.0L896.5,450.0L897.0,450.0L897.5,450.0L898.0,450.0L898.5,450.0L899.0,450.0L899.5,450.0L900.0,450.0L900.5,450.0L901.0,450.0L901.5,450.0L902.0,450.0L902.5,450.0L903.0,450.0L903.5,450.0L904.0,450.0L904.5,450.0L905.0,450.0L905.5,450.0L906.0,450.0L906.5,450.0L907.0,450.0L907.5,450.0L908.0,450.0L908.5,450.0L909.0,450.0L909.5,450.0L910.0,450.0L910.5,450.0L911.0,450.0L911.5,450.0L912.0,450.0L912.5,450.0L913.0,450.0L913.5,450.0L914.0,450.0L914.5,450.0L915.0,450.0L915.5,450.0L916.0,449.9L916.5,449.7L917.0,449.4L917.5,449.0L918.0,448.6L918.5,448.0L919.0,447.5L919.5,446.9L920.0,446.0L920.5,445.0L921.0,443.8L921.5,442.5L922.0,441.0L922.5,439.4L923.0,437.7L923.5,436.0L924.0,434.0L924.5,431.5L925.0,428.7L925.5,425.7L926.0,422.5L926.5,419.3L927.0,416.1L927.5,413.0L928.0,410.0L928.5,406.9L929.0,403.8L929.5,400.7L930.0,397.5L930.5,394.4L931.0,391.2L931.5,388.0L932.0,384.8L932.5,381.5L933.0,378.2L933.5,374.9L934.0,371.6L934.5,368.3L935.0,365.1L935.5,362.0L936.0,359.0L936.5,356.0L937.0,353.2L937.5,350.3L938.0,347.5L938.5,344.7L939.0,341.8L939.5,339.0L940.0,336.2L940.5,333.3L941.0,330.5L941.5,327.7L942.0,324.9L942.5,322.0L943.0,319.1L943.5,316.2L944.0,313.2L944.5,310.3L945.0,307.3L945.5,305.2L946.0,305.3L946.5,305.4L947.0,305.4L947.5,305.5L947.5,450.0Z" fill="#d3edd5" stroke="none"/>
<path d="M66.00,450.00C73.17,450.00 80.33,450.00 87.50,450.00C88.67,450.00 89.83,448.77 91.00,447.50C92.50,445.86 94.00,441.35 95.50,436.00C96.83,431.25 98.17,420.99 99.50,413.00C100.83,405.01 102.17,396.50 103.50,388.00C104.83,379.50 106.17,370.14 107.50,362.00C108.83,353.86 110.17,346.61 111.50,339.00C112.50,333.29 113.50,325.98 114.50,322.00C115.83,316.69 117.17,312.18 118.50,310.00C120.00,307.55 121.50,306.29 123.00,305.00C124.67,303.56 126.33,301.50 128.00,301.50C129.67,301.50 131.33,302.82 133.00,304.00C134.67,305.18 136.33,307.39 138.00,310.00C139.50,312.35 141.00,316.51 142.50,320.00C144.00,323.49 145.50,328.08 147.00,331.00C148.33,333.59 149.67,335.88 151.00,337.50C151.83,338.51 152.67,340.00 153.50,340.00C154.67,340.00 155.83,336.15 157.00,334.00C158.33,331.54 159.67,329.30 161.00,326.00C162.33,322.70 163.67,316.89 165.00,313.00C166.00,310.08 167.00,306.13 168.00,305.00C168.67,304.25 169.33,303.50 170.00,303.50C170.83,303.50 171.67,305.94 172.50,308.50C173.33,311.06 174.17,318.59 175.00,325.00C175.83,331.41 176.67,340.17 177.50,348.00C178.33,355.83 179.17,363.84 180.00,372.00C180.83,380.16 181.67,389.01 182.50,397.00C183.33,404.99 184.17,413.71 185.00,420.00C185.83,426.29 186.67,432.20 187.50,436.00C188.50,440.57 189.50,445.06 190.50,446.50C191.83,448.42 193.17,450.00 194.50,450.00C204.83,450.00 215.17,450.00 225.50,450.00C226.67,450.00 227.83,448.77 229.00,447.50C230.50,445.86 232.00,441.35 233.50,436.00C234.83,431.25 236.17,420.99 237.50,413.00C238.83,405.01 240.17,396.50 241.50,388.00C242.83,379.50 244.17,370.14 245.50,362.00C246.83,353.86 248.17,346.61 249.50,339.00C250.50,333.29 251.50,325.98 252.50,322.00C253.83,316.69 255.17,313.51 256.50,310.00C258.00,306.05 259.50,301.13 261.00,299.50C262.67,297.69 264.33,296.00 266.00,296.00C267.67,296.00 269.33,297.13 271.00,298.50C272.67,299.87 274.33,306.23 276.00,310.00C277.50,313.39 279.00,316.51 280.50,320.00C282.00,323.49 283.50,327.39 285.00,331.00C286.33,334.21 287.67,338.68 289.00,340.50C289.83,341.64 290.67,343.00 291.50,343.00C292.67,343.00 293.83,339.45 295.00,337.00C296.33,334.20 297.67,329.97 299.00,326.00C300.33,322.03 301.67,316.26 303.00,313.00C304.00,310.55 305.00,308.06 306.00,307.00C306.67,306.29 307.33,305.50 308.00,305.50C308.83,305.50 309.67,308.02 310.50,310.50C311.33,312.98 312.17,319.07 313.00,325.00C313.83,330.93 314.67,340.17 315.50,348.00C316.33,355.83 317.17,363.84 318.00,372.00C318.83,380.16 319.67,389.01 320.50,397.00C321.33,404.99 322.17,413.71 323.00,420.00C323.83,426.29 324.67,432.20 325.50,436.00C326.50,440.57 327.50,445.06 328.50,446.50C329.83,448.42 331.17,450.00 332.50,450.00C342.83,450.00 353.17,450.00 363.50,450.00C364.67,450.00 365.83,448.77 367.00,447.50C368.50,445.86 370.00,441.35 371.50,436.00C372.83,431.25 374.17,420.99 375.50,413.00C376.83,405.01 378.17,396.50 379.50,388.00C380.83,379.50 382.17,370.14 383.50,362.00C384.83,353.86 386.17,346.61 387.50,339.00C388.50,333.29 389.50,325.98 390.50,322.00C391.83,316.69 393.17,312.75 394.50,310.00C396.00,306.91 397.50,304.46 399.00,303.00C400.67,301.38 402.33,299.50 404.00,299.50C405.67,299.50 407.33,300.73 409.00,302.00C410.67,303.27 412.33,306.89 414.00,310.00C415.50,312.80 417.00,316.51 418.50,320.00C420.00,323.49 421.50,327.49 423.00,331.00C424.33,334.12 425.67,338.21 427.00,340.00C427.83,341.12 428.67,342.50 429.50,342.50C430.67,342.50 431.83,338.91 433.00,336.50C434.33,333.75 435.67,329.87 437.00,326.00C438.33,322.13 439.67,316.74 441.00,313.00C442.00,310.19 443.00,306.61 444.00,305.50C444.67,304.76 445.33,304.00 446.00,304.00C446.83,304.00 447.67,306.46 448.50,309.00C449.33,311.54 450.17,318.71 451.00,325.00C451.83,331.29 452.67,340.17 453.50,348.00C454.33,355.83 455.17,363.84 456.00,372.00C456.83,380.16 457.67,389.01 458.50,397.00C459.33,404.99 460.17,413.71 461.00,420.00C461.83,426.29 462.67,432.20 463.50,436.00C464.50,440.57 465.50,445.06 466.50,446.50C467.83,448.42 469.17,450.00 470.50,450.00C480.83,450.00 491.17,450.00 501.50,450.00C502.67,450.00 503.83,448.77 505.00,447.50C506.50,445.86 508.00,441.35 509.50,436.00C510.83,431.25 512.17,420.99 513.50,413.00C514.83,405.01 516.17,396.50 517.50,388.00C518.83,379.50 520.17,370.14 521.50,362.00C522.83,353.86 524.17,346.61 525.50,339.00C526.50,333.29 527.50,325.98 528.50,322.00C529.83,316.69 531.17,313.32 532.50,310.00C534.00,306.27 535.50,302.09 537.00,300.50C538.67,298.73 540.33,297.00 542.00,297.00C543.67,297.00 545.33,298.15 547.00,299.50C548.67,300.85 550.33,306.40 552.00,310.00C553.50,313.24 555.00,316.51 556.50,320.00C558.00,323.49 559.50,327.29 561.00,331.00C562.33,334.30 563.67,339.16 565.00,341.00C565.83,342.15 566.67,343.50 567.50,343.50C568.67,343.50 569.83,339.99 571.00,337.50C572.33,334.65 573.67,330.07 575.00,326.00C576.33,321.93 577.67,317.61 579.00,313.00C580.00,309.54 581.00,303.19 582.00,302.00C582.67,301.20 583.33,300.50 584.00,300.50C584.83,300.50 585.67,302.85 586.50,305.50C587.33,308.15 588.17,317.96 589.00,325.00C589.83,332.04 590.67,340.17 591.50,348.00C592.33,355.83 593.17,363.84 594.00,372.00C594.83,380.16 595.67,389.01 596.50,397.00C597.33,404.99 598.17,413.71 599.00,420.00C599.83,426.29 600.67,432.20 601.50,436.00C602.50,440.57 603.50,445.06 604.50,446.50C605.83,448.42 607.17,450.00 608.50,450.00C618.83,450.00 629.17,450.00 639.50,450.00C640.67,450.00 641.83,448.77 643.00,447.50C644.50,445.86 646.00,441.35 647.50,436.00C648.83,431.25 650.17,420.99 651.50,413.00C652.83,405.01 654.17,396.50 655.50,388.00C656.83,379.50 658.17,370.14 659.50,362.00C660.83,353.86 662.17,346.61 663.50,339.00C664.50,333.29 665.50,325.98 666.50,322.00C667.83,316.69 669.17,313.32 670.50,310.00C672.00,306.27 673.50,302.09 675.00,300.50C676.67,298.73 678.33,297.00 680.00,297.00C681.67,297.00 683.33,298.15 685.00,299.50C686.67,300.85 688.33,306.40 690.00,310.00C691.50,313.24 693.00,316.51 694.50,320.00C696.00,323.49 697.50,327.39 699.00,331.00C700.33,334.21 701.67,338.68 703.00,340.50C703.83,341.64 704.67,343.00 705.50,343.00C706.67,343.00 707.83,339.45 709.00,337.00C710.33,334.20 711.67,329.97 713.00,326.00C714.33,322.03 715.67,317.15 717.00,313.00C718.00,309.89 719.00,305.15 720.00,304.00C720.67,303.23 721.33,302.50 722.00,302.50C722.83,302.50 723.67,304.91 724.50,307.50C725.33,310.09 726.17,318.37 727.00,325.00C727.83,331.63 728.67,340.17 729.50,348.00C730.33,355.83 731.17,363.84 732.00,372.00C732.83,380.16 733.67,389.01 734.50,397.00C735.33,404.99 736.17,413.71 737.00,420.00C737.83,426.29 738.67,432.20 739.50,436.00C740.50,440.57 741.50,445.06 742.50,446.50C743.83,448.42 745.17,450.00 746.50,450.00C756.83,450.00 767.17,450.00 777.50,450.00C778.67,450.00 779.83,448.77 781.00,447.50C782.50,445.86 784.00,441.35 785.50,436.00C786.83,431.25 788.17,420.99 789.50,413.00C790.83,405.01 792.17,396.50 793.50,388.00C794.83,379.50 796.17,370.14 797.50,362.00C798.83,353.86 800.17,346.61 801.50,339.00C802.50,333.29 803.50,325.98 804.50,322.00C805.83,316.69 807.17,312.87 808.50,310.00C810.00,306.77 811.50,303.99 813.00,302.50C814.67,300.84 816.33,299.00 818.00,299.00C819.67,299.00 821.33,300.21 823.00,301.50C824.67,302.79 826.33,306.78 828.00,310.00C829.50,312.90 831.00,316.51 832.50,320.00C834.00,323.49 835.50,327.82 837.00,331.00C838.33,333.82 839.67,336.80 841.00,338.50C841.83,339.56 842.67,341.00 843.50,341.00C844.67,341.00 845.83,337.26 847.00,335.00C848.33,332.41 849.67,329.55 851.00,326.00C852.33,322.45 853.67,316.26 855.00,313.00C856.00,310.55 857.00,308.06 858.00,307.00C858.67,306.29 859.33,305.50 860.00,305.50C860.83,305.50 861.67,308.02 862.50,310.50C863.33,312.98 864.17,319.07 865.00,325.00C865.83,330.93 866.67,340.17 867.50,348.00C868.33,355.83 869.17,363.84 870.00,372.00C870.83,380.16 871.67,389.01 872.50,397.00C873.33,404.99 874.17,413.71 875.00,420.00C875.83,426.29 876.67,432.20 877.50,436.00C878.50,440.57 879.50,445.06 880.50,446.50C881.83,448.42 883.17,450.00 884.50,450.00C894.83,450.00 905.17,450.00 915.50,450.00C916.67,450.00 917.83,448.77 919.00,447.50C920.50,445.86 922.00,441.35 923.50,436.00C924.83,431.25 926.17,420.99 927.50,413.00C928.83,405.01 930.17,396.50 931.50,388.00C932.83,379.50 934.17,370.14 935.50,362.00C936.83,353.86 938.17,346.61 939.50,339.00C940.50,333.29 941.50,327.77 942.50,322.00C944.17,312.38 945.83,302.33 947.50,292.50" fill="none" stroke="#45d38a" stroke-width="2.2" stroke-linejoin="round"/>
<path d="M66.00,420.00C72.67,420.23 79.33,420.70 86.00,420.70C87.17,420.70 88.33,418.71 89.50,417.00C90.50,415.53 91.50,413.08 92.50,410.00C93.33,407.43 94.17,403.64 95.00,399.00C95.83,394.36 96.67,386.89 97.50,380.00C98.17,374.49 98.83,367.83 99.50,362.00C100.17,356.17 100.83,350.36 101.50,345.00C102.33,338.30 103.17,331.06 104.00,326.00C105.00,319.93 106.00,316.37 107.00,311.00C108.17,304.74 109.33,295.07 110.50,290.65C111.83,285.60 113.17,281.37 114.50,279.55C116.33,277.04 118.17,275.14 120.00,274.74C122.00,274.30 124.00,274.00 126.00,274.00C127.67,274.00 129.33,275.00 131.00,275.00C132.50,275.00 134.00,275.00 135.50,275.00C137.00,275.00 138.50,273.95 140.00,273.00C141.50,272.05 143.00,269.94 144.50,268.00C146.00,266.06 147.50,263.15 149.00,261.00C150.50,258.85 152.00,255.00 153.50,255.00C154.50,255.00 155.50,256.23 156.50,257.50C157.50,258.77 158.50,262.04 159.50,265.45C160.67,269.43 161.83,275.44 163.00,282.55C164.07,289.05 165.13,299.08 166.20,308.20C166.97,314.75 167.73,322.42 168.50,329.10C169.33,336.36 170.17,344.53 171.00,350.00C172.33,358.75 173.67,364.49 175.00,371.00C176.17,376.69 177.33,381.07 178.50,387.00C179.67,392.93 180.83,401.53 182.00,407.00C183.00,411.68 184.00,418.38 185.00,419.00C186.00,419.62 187.00,419.91 188.00,420.00C200.00,421.14 212.00,421.50 224.00,421.50C225.17,421.50 226.33,418.95 227.50,417.00C228.50,415.33 229.50,413.08 230.50,410.00C231.33,407.43 232.17,403.64 233.00,399.00C233.83,394.36 234.67,386.89 235.50,380.00C236.17,374.49 236.83,367.83 237.50,362.00C238.17,356.17 238.83,350.36 239.50,345.00C240.33,338.30 241.17,331.06 242.00,326.00C243.00,319.93 244.00,315.94 245.00,311.00C246.17,305.24 247.33,297.65 248.50,293.95C249.83,289.72 251.17,286.18 252.50,284.65C254.33,282.55 256.17,280.96 258.00,280.62C260.00,280.25 262.00,280.00 264.00,280.00C265.67,280.00 267.33,282.31 269.00,283.25C270.50,284.10 272.00,285.50 273.50,285.50C275.00,285.50 276.50,284.45 278.00,283.50C279.50,282.55 281.00,280.08 282.50,278.50C284.00,276.92 285.50,275.71 287.00,274.00C288.50,272.29 290.00,268.00 291.50,268.00C292.50,268.00 293.50,269.30 294.50,270.50C295.50,271.70 296.50,274.17 297.50,277.02C298.67,280.34 299.83,285.64 301.00,291.78C302.07,297.39 303.13,306.05 304.20,313.92C304.97,319.58 305.73,326.19 306.50,331.96C307.33,338.23 308.17,344.87 309.00,350.00C310.33,358.20 311.67,364.49 313.00,371.00C314.17,376.69 315.33,381.07 316.50,387.00C317.67,392.93 318.83,401.53 320.00,407.00C321.00,411.68 322.00,418.38 323.00,419.00C324.00,419.62 325.00,419.91 326.00,420.00C338.00,421.14 350.00,421.50 362.00,421.50C363.17,421.50 364.33,418.95 365.50,417.00C366.50,415.33 367.50,413.08 368.50,410.00C369.33,407.43 370.17,403.64 371.00,399.00C371.83,394.36 372.67,386.89 373.50,380.00C374.17,374.49 374.83,367.83 375.50,362.00C376.17,356.17 376.83,350.36 377.50,345.00C378.33,338.30 379.17,331.06 380.00,326.00C381.00,319.93 382.00,315.98 383.00,311.00C384.17,305.20 385.33,297.44 386.50,293.68C387.83,289.38 389.17,285.78 390.50,284.23C392.33,282.09 394.17,280.47 396.00,280.13C398.00,279.76 400.00,279.50 402.00,279.50C403.67,279.50 405.33,281.03 407.00,281.50C408.50,281.93 410.00,282.50 411.50,282.50C413.00,282.50 414.50,281.45 416.00,280.50C417.50,279.55 419.00,277.38 420.50,275.50C422.00,273.62 423.50,271.08 425.00,269.00C426.50,266.92 428.00,263.00 429.50,263.00C430.50,263.00 431.50,264.27 432.50,265.50C433.50,266.73 434.50,269.51 435.50,272.57C436.67,276.14 437.83,281.72 439.00,288.23C440.07,294.18 441.13,303.37 442.20,311.72C442.97,317.72 443.73,324.74 444.50,330.86C445.33,337.51 446.17,344.73 447.00,350.00C448.33,358.43 449.67,364.49 451.00,371.00C452.17,376.69 453.33,381.07 454.50,387.00C455.67,392.93 456.83,401.53 458.00,407.00C459.00,411.68 460.00,418.38 461.00,419.00C462.00,419.62 463.00,419.91 464.00,420.00C476.00,421.14 488.00,421.50 500.00,421.50C501.17,421.50 502.33,418.95 503.50,417.00C504.50,415.33 505.50,413.08 506.50,410.00C507.33,407.43 508.17,403.64 509.00,399.00C509.83,394.36 510.67,386.89 511.50,380.00C512.17,374.49 512.83,367.83 513.50,362.00C514.17,356.17 514.83,350.36 515.50,345.00C516.33,338.30 517.17,331.06 518.00,326.00C519.00,319.93 520.00,315.69 521.00,311.00C522.17,305.53 523.33,298.94 524.50,295.60C525.83,291.78 527.17,288.58 528.50,287.20C530.33,285.30 532.17,283.86 534.00,283.56C536.00,283.23 538.00,283.00 540.00,283.00C541.67,283.00 543.33,285.47 545.00,286.50C546.50,287.43 548.00,289.00 549.50,289.00C551.00,289.00 552.50,287.95 554.00,287.00C555.50,286.05 557.00,283.88 558.50,282.00C560.00,280.12 561.50,277.58 563.00,275.50C564.50,273.42 566.00,269.50 567.50,269.50C568.50,269.50 569.50,270.80 570.50,272.00C571.50,273.20 572.50,275.58 573.50,278.36C574.67,281.60 575.83,286.82 577.00,292.85C578.07,298.35 579.13,306.85 580.20,314.58C580.97,320.13 581.73,326.63 582.50,332.29C583.33,338.44 584.17,344.92 585.00,350.00C586.33,358.13 587.67,364.49 589.00,371.00C590.17,376.69 591.33,381.07 592.50,387.00C593.67,392.93 594.83,401.53 596.00,407.00C597.00,411.68 598.00,418.38 599.00,419.00C600.00,419.62 601.00,419.91 602.00,420.00C614.00,421.14 626.00,421.50 638.00,421.50C639.17,421.50 640.33,418.95 641.50,417.00C642.50,415.33 643.50,413.08 644.50,410.00C645.33,407.43 646.17,403.64 647.00,399.00C647.83,394.36 648.67,386.89 649.50,380.00C650.17,374.49 650.83,367.83 651.50,362.00C652.17,356.17 652.83,350.36 653.50,345.00C654.33,338.30 655.17,331.06 656.00,326.00C657.00,319.93 658.00,315.36 659.00,311.00C660.17,305.91 661.33,300.45 662.50,297.52C663.83,294.18 665.17,291.38 666.50,290.18C668.33,288.51 670.17,287.26 672.00,286.99C674.00,286.70 676.00,286.50 678.00,286.50C679.67,286.50 681.33,288.34 683.00,289.00C684.50,289.60 686.00,290.50 687.50,290.50C689.00,290.50 690.50,289.45 692.00,288.50C693.50,287.55 695.00,285.50 696.50,283.50C698.00,281.50 699.50,278.22 701.00,276.00C702.50,273.78 704.00,270.00 705.50,270.00C706.50,270.00 707.50,271.31 708.50,272.50C709.50,273.69 710.50,276.04 711.50,278.80C712.67,282.02 713.83,287.21 715.00,293.20C716.07,298.67 717.13,307.12 718.20,314.80C718.97,320.32 719.73,326.77 720.50,332.40C721.33,338.51 722.17,344.93 723.00,350.00C724.33,358.11 725.67,364.49 727.00,371.00C728.17,376.69 729.33,381.07 730.50,387.00C731.67,392.93 732.83,401.53 734.00,407.00C735.00,411.68 736.00,418.38 737.00,419.00C738.00,419.62 739.00,419.91 740.00,420.00C752.00,421.14 764.00,421.50 776.00,421.50C777.17,421.50 778.33,418.95 779.50,417.00C780.50,415.33 781.50,413.08 782.50,410.00C783.33,407.43 784.17,403.64 785.00,399.00C785.83,394.36 786.67,386.89 787.50,380.00C788.17,374.49 788.83,367.83 789.50,362.00C790.17,356.17 790.83,350.36 791.50,345.00C792.33,338.30 793.17,331.06 794.00,326.00C795.00,319.93 796.00,315.98 797.00,311.00C798.17,305.20 799.33,297.44 800.50,293.68C801.83,289.38 803.17,285.78 804.50,284.23C806.33,282.09 808.17,280.47 810.00,280.13C812.00,279.76 814.00,279.50 816.00,279.50C817.67,279.50 819.33,281.49 821.00,282.25C822.50,282.93 824.00,284.00 825.50,284.00C827.00,284.00 828.50,282.95 830.00,282.00C831.50,281.05 833.00,279.00 834.50,277.00C836.00,275.00 837.50,271.72 839.00,269.50C840.50,267.28 842.00,263.50 843.50,263.50C844.50,263.50 845.50,264.77 846.50,266.00C847.50,267.23 848.50,269.97 849.50,273.01C850.67,276.56 851.83,282.11 853.00,288.58C854.07,294.50 855.13,303.64 856.20,311.94C856.97,317.91 857.73,324.89 858.50,330.97C859.33,337.58 860.17,344.75 861.00,350.00C862.33,358.40 863.67,364.49 865.00,371.00C866.17,376.69 867.33,381.07 868.50,387.00C869.67,392.93 870.83,401.53 872.00,407.00C873.00,411.68 874.00,418.38 875.00,419.00C876.00,419.62 877.00,419.91 878.00,420.00C890.00,421.14 902.00,421.50 914.00,421.50C915.17,421.50 916.33,418.95 917.50,417.00C918.50,415.33 919.50,413.08 920.50,410.00C921.33,407.43 922.17,403.64 923.00,399.00C923.83,394.36 924.67,386.89 925.50,380.00C926.17,374.49 926.83,367.83 927.50,362.00C928.17,356.17 928.83,350.36 929.50,345.00C930.33,338.30 931.17,331.00 932.00,326.00C933.17,319.00 934.33,312.51 935.50,309.00C937.33,303.48 939.17,299.74 941.00,297.50C943.17,294.86 945.33,293.83 947.50,292.00" fill="none" stroke="#45a8e0" stroke-width="2.2" stroke-linejoin="round"/>
<path d="M66.00,450.00C71.33,450.00 76.67,450.00 82.00,450.00C83.17,450.00 84.33,449.06 85.50,447.50C86.33,446.38 87.17,437.80 88.00,432.00C89.00,425.04 90.00,416.58 91.00,408.00C91.83,400.85 92.67,393.28 93.50,385.00C94.33,376.72 95.17,366.28 96.00,358.00C96.83,349.72 97.67,341.29 98.50,335.00C99.50,327.46 100.50,320.36 101.50,316.00C102.67,310.91 103.83,305.13 105.00,304.50C108.33,302.70 111.67,302.83 115.00,302.00C119.00,301.00 123.00,299.00 127.00,299.00C130.00,299.00 133.00,299.57 136.00,300.50C137.67,301.02 139.33,303.51 141.00,306.00C142.33,308.00 143.67,311.57 145.00,315.00C146.33,318.43 147.67,322.84 149.00,327.00C150.33,331.16 151.67,335.70 153.00,340.00C154.67,345.38 156.33,350.84 158.00,356.00C159.67,361.16 161.33,365.69 163.00,371.00C164.67,376.31 166.33,382.17 168.00,388.00C169.67,393.83 171.33,399.84 173.00,406.00C174.67,412.16 176.33,419.41 178.00,425.00C179.67,430.59 181.33,436.67 183.00,440.00C184.67,443.33 186.33,446.05 188.00,447.50C189.33,448.66 190.67,450.00 192.00,450.00C201.33,450.00 210.67,450.00 220.00,450.00C221.17,450.00 222.33,449.06 223.50,447.50C224.33,446.38 225.17,437.80 226.00,432.00C227.00,425.04 228.00,416.58 229.00,408.00C229.83,400.85 230.67,393.28 231.50,385.00C232.33,376.72 233.17,366.28 234.00,358.00C234.83,349.72 235.67,341.29 236.50,335.00C237.50,327.46 238.50,320.48 239.50,316.00C240.67,310.77 241.83,304.63 243.00,304.00C246.33,302.20 249.67,302.06 253.00,301.50C257.00,300.83 261.00,300.00 265.00,300.00C268.00,300.00 271.00,300.60 274.00,301.50C275.67,302.00 277.33,303.82 279.00,306.00C280.33,307.74 281.67,311.57 283.00,315.00C284.33,318.43 285.67,322.84 287.00,327.00C288.33,331.16 289.67,335.70 291.00,340.00C292.67,345.38 294.33,350.84 296.00,356.00C297.67,361.16 299.33,365.69 301.00,371.00C302.67,376.31 304.33,382.17 306.00,388.00C307.67,393.83 309.33,399.84 311.00,406.00C312.67,412.16 314.33,419.41 316.00,425.00C317.67,430.59 319.33,436.67 321.00,440.00C322.67,443.33 324.33,446.05 326.00,447.50C327.33,448.66 328.67,450.00 330.00,450.00C339.33,450.00 348.67,450.00 358.00,450.00C359.17,450.00 360.33,449.06 361.50,447.50C362.33,446.38 363.17,437.80 364.00,432.00C365.00,425.04 366.00,416.58 367.00,408.00C367.83,400.85 368.67,393.28 369.50,385.00C370.33,376.72 371.17,366.28 372.00,358.00C372.83,349.72 373.67,341.29 374.50,335.00C375.50,327.46 376.50,319.98 377.50,316.00C378.67,311.36 379.83,306.62 381.00,306.00C384.33,304.23 387.67,304.26 391.00,303.50C395.00,302.59 399.00,301.00 403.00,301.00C406.00,301.00 409.00,301.64 412.00,302.50C413.67,302.98 415.33,304.19 417.00,306.00C418.33,307.45 419.67,311.57 421.00,315.00C422.33,318.43 423.67,322.84 425.00,327.00C426.33,331.16 427.67,335.70 429.00,340.00C430.67,345.38 432.33,350.84 434.00,356.00C435.67,361.16 437.33,365.69 439.00,371.00C440.67,376.31 442.33,382.17 444.00,388.00C445.67,393.83 447.33,399.84 449.00,406.00C450.67,412.16 452.33,419.41 454.00,425.00C455.67,430.59 457.33,436.67 459.00,440.00C460.67,443.33 462.33,446.05 464.00,447.50C465.33,448.66 466.67,450.00 468.00,450.00C477.33,450.00 486.67,450.00 496.00,450.00C497.17,450.00 498.33,449.06 499.50,447.50C500.33,446.38 501.17,437.80 502.00,432.00C503.00,425.04 504.00,416.58 505.00,408.00C505.83,400.85 506.67,393.28 507.50,385.00C508.33,376.72 509.17,366.28 510.00,358.00C510.83,349.72 511.67,341.29 512.50,335.00C513.50,327.46 514.50,320.24 515.50,316.00C516.67,311.06 517.83,305.63 519.00,305.00C522.33,303.21 525.67,302.74 529.00,302.50C533.00,302.21 537.00,302.00 541.00,302.00C544.00,302.00 547.00,302.71 550.00,303.50C551.67,303.94 553.33,304.60 555.00,306.00C556.33,307.12 557.67,311.57 559.00,315.00C560.33,318.43 561.67,322.84 563.00,327.00C564.33,331.16 565.67,335.70 567.00,340.00C568.67,345.38 570.33,350.84 572.00,356.00C573.67,361.16 575.33,365.69 577.00,371.00C578.67,376.31 580.33,382.17 582.00,388.00C583.67,393.83 585.33,399.84 587.00,406.00C588.67,412.16 590.33,419.41 592.00,425.00C593.67,430.59 595.33,436.67 597.00,440.00C598.67,443.33 600.33,446.05 602.00,447.50C603.33,448.66 604.67,450.00 606.00,450.00C615.33,450.00 624.67,450.00 634.00,450.00C635.17,450.00 636.33,449.06 637.50,447.50C638.33,446.38 639.17,437.80 640.00,432.00C641.00,425.04 642.00,416.58 643.00,408.00C643.83,400.85 644.67,393.28 645.50,385.00C646.33,376.72 647.17,366.28 648.00,358.00C648.83,349.72 649.67,341.29 650.50,335.00C651.50,327.46 652.50,320.48 653.50,316.00C654.67,310.77 655.83,304.63 657.00,304.00C660.33,302.20 663.67,301.92 667.00,301.50C671.00,300.99 675.00,300.50 679.00,300.50C682.00,300.50 685.00,301.12 688.00,302.00C689.67,302.49 691.33,304.00 693.00,306.00C694.33,307.60 695.67,311.57 697.00,315.00C698.33,318.43 699.67,322.84 701.00,327.00C702.33,331.16 703.67,335.70 705.00,340.00C706.67,345.38 708.33,350.84 710.00,356.00C711.67,361.16 713.33,365.69 715.00,371.00C716.67,376.31 718.33,382.17 720.00,388.00C721.67,393.83 723.33,399.84 725.00,406.00C726.67,412.16 728.33,419.41 730.00,425.00C731.67,430.59 733.33,436.67 735.00,440.00C736.67,443.33 738.33,446.05 740.00,447.50C741.33,448.66 742.67,450.00 744.00,450.00C753.33,450.00 762.67,450.00 772.00,450.00C773.17,450.00 774.33,449.06 775.50,447.50C776.33,446.38 777.17,437.80 778.00,432.00C779.00,425.04 780.00,416.58 781.00,408.00C781.83,400.85 782.67,393.28 783.50,385.00C784.33,376.72 785.17,366.28 786.00,358.00C786.83,349.72 787.67,341.29 788.50,335.00C789.50,327.46 790.50,319.70 791.50,316.00C792.67,311.69 793.83,307.61 795.00,307.00C798.33,305.25 801.67,305.45 805.00,304.50C809.00,303.36 813.00,300.50 817.00,300.50C820.00,300.50 823.00,301.12 826.00,302.00C827.67,302.49 829.33,304.00 831.00,306.00C832.33,307.60 833.67,311.57 835.00,315.00C836.33,318.43 837.67,322.84 839.00,327.00C840.33,331.16 841.67,335.70 843.00,340.00C844.67,345.38 846.33,350.84 848.00,356.00C849.67,361.16 851.33,365.69 853.00,371.00C854.67,376.31 856.33,382.17 858.00,388.00C859.67,393.83 861.33,399.84 863.00,406.00C864.67,412.16 866.33,419.41 868.00,425.00C869.67,430.59 871.33,436.67 873.00,440.00C874.67,443.33 876.33,446.05 878.00,447.50C879.33,448.66 880.67,450.00 882.00,450.00C891.33,450.00 900.67,450.00 910.00,450.00C911.17,450.00 912.33,449.06 913.50,447.50C914.33,446.38 915.17,437.80 916.00,432.00C917.00,425.04 918.00,416.58 919.00,408.00C919.83,400.85 920.67,393.28 921.50,385.00C922.33,376.72 923.17,366.28 924.00,358.00C924.83,349.72 925.67,341.29 926.50,335.00C927.50,327.46 928.50,319.55 929.50,316.00C930.67,311.86 931.83,308.11 933.00,307.50C936.33,305.76 939.67,305.00 943.00,305.00C944.50,305.00 946.00,305.33 947.50,305.50" fill="none" stroke="#ede24c" stroke-width="2.2" stroke-linejoin="round"/>
</svg>

<div class="num" style="left:259.2px;top:57px">294</div>
<div class="unit" style="left:259.2px;top:107px">W</div>
<div class="num" style="left:447.3px;top:57px">77</div>
<div class="unit" style="left:447.3px;top:107px;transform:none">%</div>
<div class="num" style="left:634.8px;top:57px">314</div>
<div class="unit" style="left:634.8px;top:107px">W</div>

<div class="lbl" style="left:234.2px;top:172px">Erzeugung</div>
<div class="lbl" style="left:421.5px;top:172px">Ladezustand</div>
<div class="lbl" style="left:609.5px;top:172px">Einspeisung</div>
<div class="bar" style="left:235px;top:196px;width:169px;background:#f2e23a"></div>
<div class="bar" style="left:423px;top:196px;width:167px;background:#2ea6e6"></div>
<div class="bar" style="left:611px;top:196px;width:167px;background:#38d98a"></div>

<div class="yl" style="left:32.5px;top:242.5px">100%</div>
<div class="yl" style="left:43px;top:446.5px">0%</div>
<div class="yl" style="left:953.5px;top:242.5px">400W</div>
<div class="yl" style="left:953.5px;top:294px">300W</div>
<div class="yl" style="left:953.5px;top:344.5px">200W</div>
<div class="yl" style="left:953.5px;top:395px">100W</div>
<div class="yl" style="left:953.5px;top:446px">0W</div>
<div class="xl" style="left:50.0px">Aug 2</div><div class="xl" style="left:188.0px">Aug 3</div><div class="xl" style="left:326.0px">Aug 4</div><div class="xl" style="left:464.0px">Aug 5</div><div class="xl" style="left:602.0px">Aug 6</div><div class="xl" style="left:740.0px">Aug 7</div><div class="xl" style="left:878.0px">Aug 8</div>

<div class="box">
  <div class="inp">
    <svg class="abs" style="left:11px;top:7.5px" width="13" height="13" viewBox="0 0 13 13"><rect x="1" y="2" width="11" height="10" rx="1.5" fill="none" stroke="#a0a0a0" stroke-width="1.3"/><line x1="1" y1="5" x2="12" y2="5" stroke="#a0a0a0" stroke-width="1.3"/><line x1="4" y1="0.5" x2="4" y2="3" stroke="#a0a0a0" stroke-width="1.3"/><line x1="9" y1="0.5" x2="9" y2="3" stroke="#a0a0a0" stroke-width="1.3"/></svg>
    <div class="date">2.8.2023 - 12.8.2023</div>
    <div class="abs" style="left:926px;top:5.5px;font-size:15px;color:#a8a8a8;line-height:1">×</div>
  </div>
  <div class="btn" style="left:0">Heute</div>
  <div class="sep" style="left:234.5px"></div>
  <div class="btn" style="left:236.75px">2 Tage</div>
  <div class="sep" style="left:472.5px"></div>
  <div class="btn" style="left:473.5px">4 Tage</div>
  <div class="sep" style="left:709.5px"></div>
  <div class="btn" style="left:710.25px">7 Tage</div>
</div>
</div></body></html>
